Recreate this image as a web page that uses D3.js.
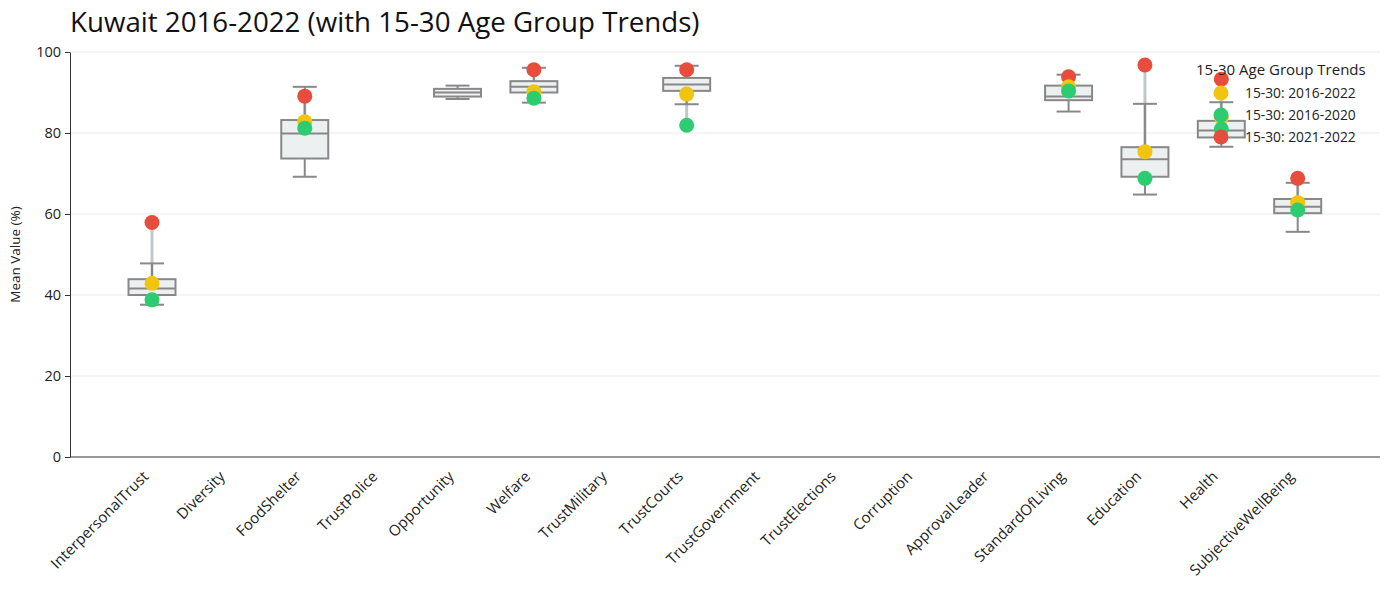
<!DOCTYPE html>
<html>
<head>
<meta charset="utf-8">
<script src="https://cdn.jsdelivr.net/npm/d3@7"></script>
<style>
  body { margin: 0; background: #fff; font-family: "Open Sans", sans-serif; }
  svg text { font-family: "Open Sans", sans-serif; }
</style>
</head>
<body>
<svg id="chart" width="1389" height="590"></svg>
<script>
// categories on the x axis
var categories = ["InterpersonalTrust", "Diversity", "FoodShelter", "TrustPolice", "Opportunity", "Welfare",
  "TrustMilitary", "TrustCourts", "TrustGovernment", "TrustElections", "Corruption", "ApprovalLeader",
  "StandardOfLiving", "Education", "Health", "SubjectiveWellBeing"];

// box stats, Kuwait 2016-2022 (null = no data)
var whiskerLow  = [37.6, null, 69.2, null, 88.4, 87.5, null, 87.1, null, null, null, null, 85.3, 64.8, 76.6, 55.6];
var boxQ1       = [40.0, null, 73.7, null, 89.0, 90.0, null, 90.4, null, null, null, null, 88.1, 69.2, 78.9, 60.2];
var boxMedian   = [41.6, null, 79.9, null, 90.0, 91.4, null, 92.0, null, null, null, null, 89.0, 73.5, 80.6, 61.8];
var boxQ3       = [43.9, null, 83.2, null, 90.9, 92.8, null, 93.6, null, null, null, null, 91.7, 76.5, 83.0, 63.7];
var whiskerHigh = [47.8, null, 91.4, null, 91.7, 96.1, null, 96.6, null, null, null, null, 94.4, 87.2, 87.6, 67.7];

// 15-30 age group trends
var trend2016_2022 = [42.9, null, 82.8, null, null, 90.2, null, 89.6, null, null, null, null, 91.4, 75.4, 83.8, 62.8];
var trend2016_2020 = [38.8, null, 81.2, null, null, 88.6, null, 81.9, null, null, null, null, 90.4, 68.8, 81.0, 61.0];
var trend2021_2022 = [57.9, null, 89.1, null, null, 95.6, null, 95.6, null, null, null, null, 93.9, 96.8, 93.3, 68.8];

var seriesNames = ["15-30: 2016-2022", "15-30: 2016-2020", "15-30: 2021-2022"];
var seriesColors = ["#f1c40f", "#2ecc71", "#e74c3c"];
var yTicks = [0, 20, 40, 60, 80, 100];

var svg = d3.select("#chart"),
  plotLeft = 70, plotRight = 1380, plotTop = 52, plotBottom = 457;

var x = d3.scalePoint().domain(categories).range([152, 1297.7]);
var y = d3.scaleLinear().domain([0, 100]).range([plotBottom, plotTop]);

// title
svg.append("text").attr("x", 70).attr("y", 32)
  .style("font-size", "27.7px").attr("fill", "#111")
  .text("Kuwait 2016-2022 (with 15-30 Age Group Trends)");

// grid
svg.append("g").selectAll("line").data(yTicks.filter(function(t) { return t > 0; })).enter().append("line")
  .attr("x1", plotLeft).attr("x2", plotRight)
  .attr("y1", function(d) { return y(d); }).attr("y2", function(d) { return y(d); })
  .attr("stroke", "#ebebeb").attr("stroke-width", 1);

// y axis
var yAxis = svg.append("g").attr("transform", "translate(" + plotLeft + ",0)")
  .call(d3.axisLeft(y).tickValues(yTicks).tickSize(5).tickSizeOuter(0));
yAxis.select(".domain").attr("stroke", "#333");
yAxis.selectAll(".tick line").attr("stroke", "#333");
yAxis.selectAll(".tick text").style("font-size", "14.5px").attr("fill", "#222").attr("x", -9)
  .style("font-family", "'Open Sans', sans-serif");

svg.append("text").attr("transform", "translate(20," + ((plotTop + plotBottom) / 2) + ") rotate(-90)")
  .attr("text-anchor", "middle").style("font-size", "13.5px").attr("fill", "#222")
  .text("Mean Value (%)");

// x axis
svg.append("line").attr("x1", plotLeft).attr("x2", plotRight).attr("y1", plotBottom).attr("y2", plotBottom)
  .attr("stroke", "#333").attr("stroke-width", 1);
svg.append("g").selectAll("text").data(categories).enter().append("text")
  .attr("transform", function(d) { return "translate(" + (x(d) - 10) + "," + (plotBottom + 13) + ") rotate(-45)"; })
  .attr("text-anchor", "end").attr("dy", "0.7em")
  .style("font-size", "15px").attr("fill", "#222")
  .text(function(d) { return d; });

// range line between trend dots
var rows = categories.map(function(c, i) {
  return { cat: c, lo: whiskerLow[i], q1: boxQ1[i], med: boxMedian[i], q3: boxQ3[i], hi: whiskerHigh[i],
    dots: [trend2016_2022[i], trend2016_2020[i], trend2021_2022[i]] };
});

svg.append("g").selectAll("line").data(rows.filter(function(r) { return r.dots[0] != null; })).enter().append("line")
  .attr("x1", function(d) { return x(d.cat); }).attr("x2", function(d) { return x(d.cat); })
  .attr("y1", function(d) { return y(d3.max(d.dots)); }).attr("y2", function(d) { return y(d3.min(d.dots)); })
  .attr("stroke", "#bfc8c9").attr("stroke-width", 3);

// boxes
var boxW = 47, capW = 24;
var boxes = svg.append("g").selectAll("g").data(rows.filter(function(r) { return r.q1 != null; })).enter().append("g");
boxes.append("line")
  .attr("x1", function(d) { return x(d.cat); }).attr("x2", function(d) { return x(d.cat); })
  .attr("y1", function(d) { return y(d.hi); }).attr("y2", function(d) { return y(d.q3); })
  .attr("stroke", "#888").attr("stroke-width", 2);
boxes.append("line")
  .attr("x1", function(d) { return x(d.cat); }).attr("x2", function(d) { return x(d.cat); })
  .attr("y1", function(d) { return y(d.q1); }).attr("y2", function(d) { return y(d.lo); })
  .attr("stroke", "#888").attr("stroke-width", 2);
["hi", "lo"].forEach(function(k) {
  boxes.append("line")
    .attr("x1", function(d) { return x(d.cat) - capW / 2; }).attr("x2", function(d) { return x(d.cat) + capW / 2; })
    .attr("y1", function(d) { return y(d[k]); }).attr("y2", function(d) { return y(d[k]); })
    .attr("stroke", "#888").attr("stroke-width", 2);
});
boxes.append("rect")
  .attr("x", function(d) { return x(d.cat) - boxW / 2; }).attr("width", boxW)
  .attr("y", function(d) { return y(d.q3); }).attr("height", function(d) { return y(d.q1) - y(d.q3); })
  .attr("fill", "#ecf0f1").attr("stroke", "#888").attr("stroke-width", 2);
boxes.append("line")
  .attr("x1", function(d) { return x(d.cat) - boxW / 2; }).attr("x2", function(d) { return x(d.cat) + boxW / 2; })
  .attr("y1", function(d) { return y(d.med); }).attr("y2", function(d) { return y(d.med); })
  .attr("stroke", "#888").attr("stroke-width", 2);

// trend dots: red first, then yellow, then green on top
[2, 0, 1].forEach(function(s) {
  svg.append("g").selectAll("circle").data(rows.filter(function(r) { return r.dots[s] != null; })).enter().append("circle")
    .attr("cx", function(d) { return x(d.cat); })
    .attr("cy", function(d) { return y(d.dots[s]); })
    .attr("r", 7.5).attr("fill", seriesColors[s]);
});

// legend
var legend = svg.append("g").attr("transform", "translate(1196,0)");
legend.append("text").attr("x", 0).attr("y", 75).style("font-size", "15px").attr("fill", "#222")
  .text("15-30 Age Group Trends");
var items = legend.selectAll("g.item").data(seriesNames).enter().append("g")
  .attr("transform", function(d, i) { return "translate(0," + (93 + i * 22) + ")"; });
items.append("circle").attr("cx", 25).attr("cy", 0).attr("r", 7.5)
  .attr("fill", function(d, i) { return seriesColors[i]; });
items.append("text").attr("x", 49).attr("dy", "0.35em").style("font-size", "13.8px").attr("fill", "#222")
  .text(function(d) { return d; });
</script>
</body>
</html>
